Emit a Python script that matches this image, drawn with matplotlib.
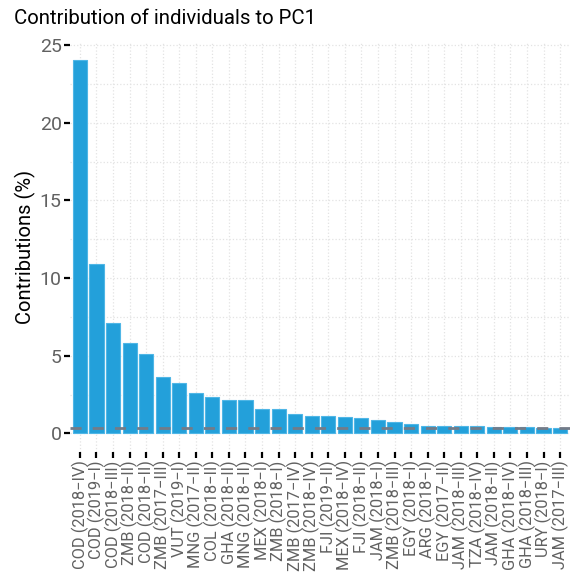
import numpy as np
import matplotlib
matplotlib.use("Agg")
from matplotlib import pyplot as plt
from matplotlib.ticker import MultipleLocator

plt.rcParams['font.family'] = ['Roboto', 'DejaVu Sans']

# data
labels = [
    "COD (2018−IV)", "COD (2019−I)", "COD (2018−III)", "ZMB (2018−II)",
    "COD (2018−II)", "ZMB (2017−III)", "VUT (2019−I)", "MNG (2017−II)",
    "COL (2018−II)", "GHA (2018−II)", "MNG (2018−II)", "MEX (2018−I)",
    "ZMB (2018−I)", "ZMB (2017−IV)", "ZMB (2018−IV)", "FJI (2019−II)",
    "MEX (2018−IV)", "FJI (2018−II)", "JAM (2018−I)", "ZMB (2018−III)",
    "EGY (2018−I)", "ARG (2018−I)", "EGY (2017−II)", "JAM (2018−III)",
    "TZA (2018−IV)", "JAM (2018−II)", "GHA (2018−IV)", "GHA (2018−III)",
    "URY (2018−I)", "JAM (2017−III)",
]
contrib = [24.05, 10.93, 7.12, 5.82, 5.11, 3.61, 3.25, 2.60, 2.34, 2.17,
           2.12, 1.59, 1.57, 1.27, 1.14, 1.12, 1.07, 0.98, 0.88, 0.75,
           0.62, 0.50, 0.50, 0.48, 0.46, 0.44, 0.43, 0.42, 0.37, 0.36]
expected = 0.35

fig = plt.figure(figsize=(5.74, 5.79), dpi=100)
ax = fig.add_axes([70 / 574, 1 - 452 / 579, 500 / 574, 410 / 579])

x = np.arange(1, len(contrib) + 1)
ax.bar(x, contrib, width=0.85, color='#23a0da', edgecolor='#4fb6e6',
       linewidth=0.8, zorder=2)
ax.axhline(expected, color='#737b88', linestyle=(0, (4, 4)), linewidth=2,
           zorder=3)

ax.set_xlim(0.4, len(contrib) + 0.6)
ax.set_ylim(-1.2, 25.2)
ax.yaxis.set_major_locator(MultipleLocator(5))
ax.yaxis.set_minor_locator(MultipleLocator(2.5))
ax.set_xticks(x)
ax.set_xticklabels(labels, rotation=90, fontsize=11.8, color='#616161')
for t in ax.get_yticklabels():
    t.set_fontsize(14)
    t.set_color('#616161')

ax.tick_params(axis='both', which='major', length=4, width=1.6,
               color='black', pad=2)
ax.tick_params(axis='y', which='minor', length=0)
ax.grid(True, which='major', color='#e3e3e3', linestyle=':', linewidth=0.9,
        zorder=0)
ax.grid(True, which='minor', axis='y', color='#e3e3e3', linestyle=':',
        linewidth=0.9, zorder=0)
for s in ax.spines.values():
    s.set_visible(False)

ax.set_ylabel("Contributions (%)", fontsize=14.5, color='black', labelpad=3)
fig.text(14 / 574, 1 - 18 / 579, "Contribution of individuals to PC1",
         fontsize=14.7, ha='left', va='center')

fig.savefig("out.png", dpi=100)
